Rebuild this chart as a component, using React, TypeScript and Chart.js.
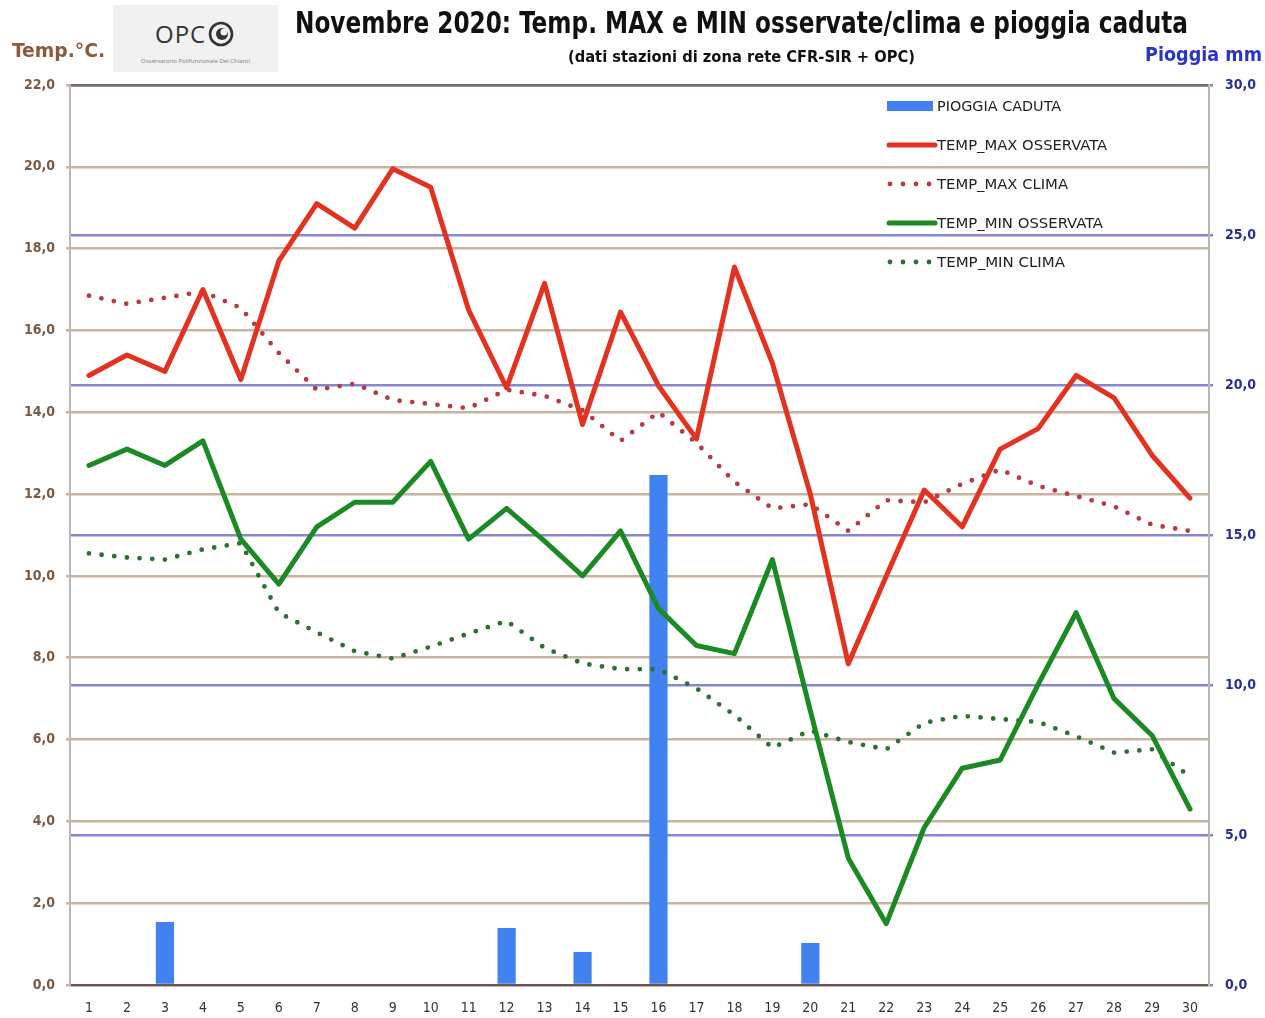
import React, { useEffect, useLayoutEffect, useRef } from "react";
import { Chart, registerables } from "chart.js";

Chart.register(...registerables);

const days = ["1","2","3","4","5","6","7","8","9","10","11","12","13","14","15","16","17","18","19","20","21","22","23","24","25","26","27","28","29","30"];

const pioggiaCaduta = [0, 0, 2.1, 0, 0, 0, 0, 0, 0, 0, 0, 1.9, 0, 1.1, 0, 17.0, 0, 0, 0, 1.4, 0, 0, 0, 0, 0, 0, 0, 0, 0, 0];

const tempMaxOsservata = [14.9, 15.4, 15.0, 17.0, 14.8, 17.7, 19.1, 18.5, 19.95, 19.5, 16.5, 14.6, 17.15, 13.7, 16.45, 14.65, 13.35, 17.55, 15.2, 12.0, 7.85, 10.0, 12.1, 11.2, 13.1, 13.6, 14.9, 14.35, 12.95, 11.9];

const tempMaxClima = [16.85, 16.65, 16.8, 16.95, 16.55, 15.45, 14.55, 14.7, 14.3, 14.2, 14.1, 14.55, 14.4, 14.05, 13.3, 14.0, 13.25, 12.3, 11.65, 11.75, 11.1, 11.85, 11.8, 12.25, 12.6, 12.2, 11.95, 11.7, 11.25, 11.1];

const tempMinOsservata = [12.7, 13.1, 12.7, 13.3, 10.9, 9.8, 11.2, 11.8, 11.8, 12.8, 10.9, 11.65, 10.85, 10.0, 11.1, 9.2, 8.3, 8.1, 10.4, 6.7, 3.1, 1.5, 3.85, 5.3, 5.5, 7.35, 9.1, 7.0, 6.1, 4.3];

const tempMinClima = [10.55, 10.45, 10.4, 10.65, 10.8, 9.1, 8.62, 8.16, 7.98, 8.27, 8.59, 8.9, 8.24, 7.86, 7.72, 7.72, 7.25, 6.6, 5.8, 6.22, 5.94, 5.76, 6.41, 6.58, 6.5, 6.43, 6.08, 5.68, 5.76, 5.1];

const legendLabels = ["PIOGGIA CADUTA", "TEMP_MAX OSSERVATA", "TEMP_MAX CLIMA", "TEMP_MIN OSSERVATA", "TEMP_MIN CLIMA"];
const legendTextWidths = [124, 170, 131, 166, 128];

const FONT = '"DejaVu Sans Condensed", "Liberation Sans Narrow", "Open Sans", sans-serif';

const C_RAIN = "#4282f0";
const C_MAX = "#e3321f";
const C_MAXC = "#b43c44";
const C_MIN = "#1b8a22";
const C_MINC = "#2f6e34";

const fmt = (v: number) => v.toFixed(1).replace(".", ",");

const legendPlugin = {
  id: "customLegend",
  afterDraw(chart: any) {
    const ctx = chart.ctx;
    ctx.save();
    const x0 = 887;
    const rows = [106, 145, 184, 223, 262];
    ctx.font = `14px ${FONT}`;
    ctx.textBaseline = "middle";
    rows.forEach((y, i) => {
      if (i === 0) {
        ctx.fillStyle = C_RAIN;
        ctx.fillRect(x0, y - 5, 46, 10);
      } else if (i === 1 || i === 3) {
        ctx.strokeStyle = i === 1 ? C_MAX : C_MIN;
        ctx.lineWidth = 5;
        ctx.lineCap = "round";
        ctx.beginPath();
        ctx.moveTo(x0 + 2, y);
        ctx.lineTo(x0 + 48, y);
        ctx.stroke();
      } else {
        ctx.fillStyle = i === 2 ? C_MAXC : C_MINC;
        for (let k = 0; k < 4; k++) {
          ctx.beginPath();
          ctx.arc(x0 + 3 + k * 13, y, 2.4, 0, Math.PI * 2);
          ctx.fill();
        }
      }
      ctx.fillStyle = "#222";
      ctx.textAlign = "left";
      const w = ctx.measureText(legendLabels[i]).width;
      ctx.save();
      ctx.translate(937, y + 1);
      ctx.scale(legendTextWidths[i] / w, 1);
      ctx.fillText(legendLabels[i], 0, 0);
      ctx.restore();
    });
    ctx.restore();
  },
};

function FitText(props: { left: number; top: number; width: number; font: string; color: string; text: string }) {
  const ref = useRef<HTMLSpanElement>(null);
  useLayoutEffect(() => {
    const el = ref.current;
    if (!el) return;
    el.style.transform = "none";
    const w = el.getBoundingClientRect().width;
    if (w > 0) el.style.transform = `scaleX(${props.width / w})`;
  });
  return (
    <span
      ref={ref}
      style={{
        position: "absolute",
        left: props.left,
        top: props.top,
        font: props.font,
        color: props.color,
        whiteSpace: "nowrap",
        display: "inline-block",
        transformOrigin: "left top",
      }}
    >
      {props.text}
    </span>
  );
}

function Logo() {
  return (
    <div
      style={{
        position: "absolute",
        left: 113,
        top: 5,
        width: 165,
        height: 67,
        background: "#f1f1f1",
      }}
    >
      <div
        style={{
          position: "absolute",
          left: 42,
          top: 12,
          font: `24px "Open Sans", sans-serif`,
          color: "#333",
          letterSpacing: 1,
        }}
      >
        OPC
      </div>
      <svg style={{ position: "absolute", left: 94, top: 15 }} width="30" height="30" viewBox="0 0 30 30">
        <circle cx="14" cy="14" r="11" fill="none" stroke="#333" strokeWidth="2.6" />
        <circle cx="15" cy="14" r="6" fill="#333" />
        <circle cx="17" cy="12" r="3.5" fill="#f1f1f1" />
      </svg>
      <div
        style={{
          position: "absolute",
          left: 0,
          width: 165,
          top: 52,
          textAlign: "center",
          font: `6px "Open Sans", sans-serif`,
          color: "#8a7090",
        }}
      >
        Osservatorio Polifunzionale Del Chianti
      </div>
    </div>
  );
}

export default function App() {
  const ref = useRef<HTMLCanvasElement>(null);

  useEffect(() => {
    document.body.style.margin = "0";
    const canvas = ref.current;
    if (!canvas) return;
    const chart = new Chart(canvas, {
      type: "bar",
      data: {
        labels: days,
        datasets: [
          {
            type: "line",
            label: legendLabels[1],
            data: tempMaxOsservata,
            yAxisID: "y",
            borderColor: C_MAX,
            borderWidth: 5,
            pointRadius: 0,
            tension: 0,
            borderJoinStyle: "round",
            borderCapStyle: "round",
            order: 0,
          } as any,
          {
            type: "line",
            label: legendLabels[3],
            data: tempMinOsservata,
            yAxisID: "y",
            borderColor: C_MIN,
            borderWidth: 5,
            pointRadius: 0,
            tension: 0,
            borderJoinStyle: "round",
            borderCapStyle: "round",
            order: 0,
          } as any,
          {
            type: "line",
            label: legendLabels[2],
            data: tempMaxClima,
            yAxisID: "y",
            borderColor: C_MAXC,
            borderWidth: 4.8,
            borderDash: [0, 12.7],
            borderCapStyle: "round",
            pointRadius: 0,
            tension: 0,
            order: 1,
          } as any,
          {
            type: "line",
            label: legendLabels[4],
            data: tempMinClima,
            yAxisID: "y",
            borderColor: C_MINC,
            borderWidth: 4.8,
            borderDash: [0, 12.7],
            borderCapStyle: "round",
            pointRadius: 0,
            tension: 0,
            order: 1,
          } as any,
          {
            type: "bar",
            label: legendLabels[0],
            data: pioggiaCaduta,
            yAxisID: "y1",
            backgroundColor: C_RAIN,
            barPercentage: 0.48,
            categoryPercentage: 1,
            order: 2,
          } as any,
        ],
      },
      options: {
        responsive: false,
        animation: false,
        devicePixelRatio: 1,
        layout: { padding: { top: 85, left: 0, right: 0, bottom: 0 } },
        plugins: {
          legend: { display: false },
          tooltip: { enabled: false },
          title: { display: false },
        },
        scales: {
          x: {
            type: "category",
            offset: true,
            grid: { display: false, drawTicks: false },
            border: { color: "#6e5446", width: 2 },
            ticks: {
              color: "#333",
              font: { family: FONT, size: 14 },
              padding: 15,
              maxRotation: 0,
              autoSkip: false,
            },
            afterFit: (s: any) => {
              s.height = 33;
            },
          },
          y: {
            position: "left",
            min: 0,
            max: 22,
            ticks: {
              stepSize: 2,
              color: "#7a5a42",
              font: { family: FONT, size: 14, weight: "bold" },
              padding: 11,
              callback: (v: any) => fmt(Number(v)),
            },
            grid: {
              color: (c: any) => (c.tick && c.tick.value === 22 ? "#7a6878" : "#c8b49f"),
              lineWidth: 2.5,
              drawTicks: true,
              tickLength: 4,
              tickColor: "#c8b49f",
            },
            border: { color: "#b8b8b8", width: 2 },
            afterFit: (s: any) => {
              s.width = 70;
            },
          },
          y1: {
            position: "right",
            min: 0,
            max: 30,
            ticks: {
              stepSize: 5,
              color: "#2b2f95",
              font: { family: FONT, size: 14, weight: "bold" },
              padding: 12,
              callback: (v: any) => fmt(Number(v)),
            },
            grid: {
              color: (c: any) => (c.tick && c.tick.value === 30 ? "#7a6878" : "#8686d2"),
              lineWidth: 2.5,
              drawTicks: true,
              tickLength: 4,
              tickColor: "#8686d2",
            },
            border: { color: "#b8b8b8", width: 2 },
            afterFit: (s: any) => {
              s.width = 56;
            },
          },
        },
      } as any,
      plugins: [legendPlugin],
    });
    return () => chart.destroy();
  }, []);

  return (
    <div style={{ position: "relative", width: 1265, height: 1018, background: "#fff", overflow: "hidden" }}>
      <canvas ref={ref} width={1265} height={1018} style={{ position: "absolute", left: 0, top: 0 }} />
      <Logo />
      <FitText
        left={295}
        top={4}
        width={893}
        font={`bold 31px ${FONT}`}
        color="#111"
        text="Novembre 2020: Temp. MAX e MIN osservate/clima e pioggia caduta"
      />
      <FitText
        left={568}
        top={47}
        width={347}
        font={`bold 16px ${FONT}`}
        color="#111"
        text="(dati stazioni di zona rete CFR-SIR + OPC)"
      />
      <FitText left={12} top={38} width={93} font={`bold 20px ${FONT}`} color="#8b5a3a" text="Temp.°C." />
      <FitText left={1145} top={42} width={117} font={`bold 20px ${FONT}`} color="#2a36c2" text="Pioggia mm" />
    </div>
  );
}
